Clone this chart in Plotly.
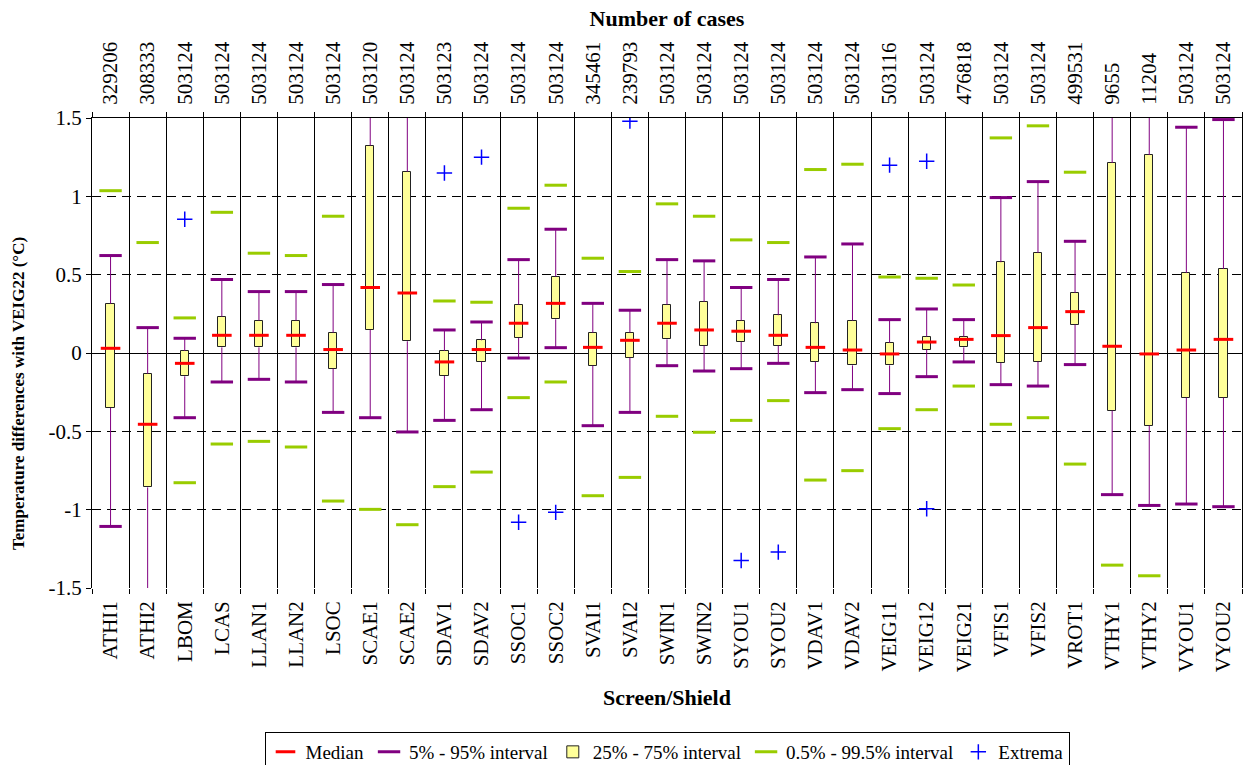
import plotly.graph_objects as go

categories = ["ATHI1", "ATHI2", "LBOM", "LCAS", "LLAN1", "LLAN2", "LSOC", "SCAE1", "SCAE2",
              "SDAV1", "SDAV2", "SSOC1", "SSOC2", "SVAI1", "SVAI2", "SWIN1", "SWIN2", "SYOU1",
              "SYOU2", "VDAV1", "VDAV2", "VEIG11", "VEIG12", "VEIG21", "VFIS1", "VFIS2", "VROT1",
              "VTHY1", "VTHY2", "VYOU1", "VYOU2"]

n_cases = [329206, 308333, 503124, 503124, 503124, 503124, 503124, 503120, 503124, 503123,
           503124, 503124, 503124, 345461, 239793, 503124, 503124, 503124, 503124, 503124,
           503124, 503116, 503124, 476818, 503124, 503124, 499531, 9655, 11204, 503124, 503124]

median = [0.03, -0.455, -0.066, 0.113, 0.113, 0.113, 0.022, 0.418, 0.383, -0.057, 0.022,
          0.19, 0.317, 0.036, 0.081, 0.19, 0.147, 0.139, 0.113, 0.036, 0.019, -0.006, 0.07,
          0.087, 0.111, 0.162, 0.264, 0.043, -0.006, 0.019, 0.087]
q1 = [-0.351, -0.858, -0.149, 0.036, 0.036, 0.036, -0.1, 0.147, 0.075, -0.147, -0.055,
      0.096, 0.215, -0.081, -0.03, 0.087, 0.047, 0.07, 0.047, -0.055, -0.079, -0.079, 0.022,
      0.036, -0.064, -0.055, 0.181, -0.368, -0.464, -0.285, -0.285]
q3 = [0.315, -0.132, 0.013, 0.232, 0.207, 0.207, 0.13, 1.324, 1.158, 0.013, 0.081, 0.309,
      0.488, 0.13, 0.13, 0.309, 0.326, 0.207, 0.241, 0.19, 0.207, 0.064, 0.105, 0.105, 0.579,
      0.639, 0.383, 1.213, 1.264, 0.511, 0.536]
p5 = [-1.107, -1.6, -0.413, -0.185, -0.168, -0.185, -0.379, -0.413, -0.504, -0.43, -0.362,
      -0.032, 0.034, -0.464, -0.379, -0.081, -0.115, -0.1, -0.066, -0.253, -0.234, -0.259,
      -0.151, -0.057, -0.202, -0.211, -0.074, -0.904, -0.973, -0.964, -0.981]
p95 = [0.622, 0.162, 0.094, 0.469, 0.392, 0.392, 0.437, 1.7, 1.7, 0.147, 0.198, 0.596, 0.79,
       0.317, 0.273, 0.596, 0.588, 0.418, 0.469, 0.613, 0.696, 0.213, 0.281, 0.213, 0.992,
       1.094, 0.713, 1.7, 1.7, 1.441, 1.49]
p0_5 = [None, None, -0.828, -0.581, -0.564, -0.6, -0.945, -0.998, -1.096, -0.853, -0.76,
        -0.285, -0.185, -0.911, -0.794, -0.404, -0.506, -0.43, -0.304, -0.811, -0.751, -0.483,
        -0.362, -0.211, -0.455, -0.413, -0.709, -1.354, -1.422, None, None]
p99_5 = [1.036, 0.705, 0.224, 0.898, 0.637, 0.622, 0.873, None, None, 0.332, 0.324, 0.924,
         1.071, 0.605, 0.52, 0.952, 0.873, 0.722, 0.705, 1.171, 1.205, 0.485, 0.477, 0.434,
         1.373, 1.45, 1.154, None, None, None, None]
ext_max = [None, None, 0.854, None, None, None, None, None, None, 1.149, 1.25, None, None,
           None, 1.48, None, None, None, None, None, None, 1.199, 1.224, None, None, None,
           None, None, None, None, None]
ext_min = [None, None, None, None, None, None, None, None, None, None, None, -1.08, -1.017,
           None, None, None, None, -1.324, -1.271, None, None, None, -0.994, None, None, None,
           None, None, None, None, None]

FONT = "Liberation Serif"
PURPLE = "#800080"
GREEN = "#99CC00"
RED = "#FF0000"
YELLOW = "#FFFF99"
BLUE = "#0000FF"

# whisker segments (outside the box)
wx, wy = [], []
for c, a, b, lo, hi in zip(categories, q1, q3, p5, p95):
    if lo is not None:
        wx += [c, c, None]
        wy += [lo, a, None]
    if hi is not None:
        wx += [c, c, None]
        wy += [b, hi, None]

fig = go.Figure()

fig.add_trace(go.Scatter(x=wx, y=wy, mode="lines", line=dict(color=PURPLE, width=1),
                         showlegend=False, hoverinfo="skip"))

fig.add_trace(go.Bar(x=categories, y=[b - a for a, b in zip(q1, q3)], base=q1, width=0.22,
                     marker=dict(color=YELLOW, line=dict(color="#222222", width=1)),
                     name="25% - 75% interval", legendrank=3))

def dash_trace(vals, color, name, rank, size=16, show=True):
    return go.Scatter(x=categories, y=vals, mode="markers", name=name, legendrank=rank,
                      showlegend=show,
                      marker=dict(symbol="line-ew", size=size, color=color,
                                  line=dict(color=color, width=3)))

fig.add_trace(dash_trace(p5, PURPLE, "5% - 95% interval", 2))
fig.add_trace(dash_trace(p95, PURPLE, "5% - 95% interval", 2, show=False))
fig.add_trace(dash_trace(p0_5, GREEN, "0.5% - 99.5% interval", 4))
fig.add_trace(dash_trace(p99_5, GREEN, "0.5% - 99.5% interval", 4, show=False))
fig.add_trace(dash_trace(median, RED, "Median", 1, size=14))

fig.add_trace(go.Scatter(x=categories, y=ext_max, mode="markers", name="Extrema", legendrank=5,
                         marker=dict(symbol="cross-thin", size=11, color=BLUE,
                                     line=dict(color=BLUE, width=1.5))))
fig.add_trace(go.Scatter(x=categories, y=ext_min, mode="markers", name="Extrema", showlegend=False,
                         marker=dict(symbol="cross-thin", size=11, color=BLUE,
                                     line=dict(color=BLUE, width=1.5))))

# invisible trace for the top axis (number of cases)
fig.add_trace(go.Scatter(x=categories, y=[None] * len(categories), xaxis="x2",
                         mode="markers", showlegend=False, hoverinfo="skip"))

fig.update_layout(
    width=1244, height=765,
    margin=dict(l=92, r=2, t=118, b=177, autoexpand=False),
    paper_bgcolor="white", plot_bgcolor="white",
    font=dict(family=FONT, size=21, color="black"),
    showlegend=True,
    legend=dict(orientation="h", x=0.5, xanchor="center", y=-(732 - 588) / 470, yanchor="top",
                bordercolor="black", borderwidth=1,
                font=dict(family=FONT, size=19, color="black"), itemwidth=30,
                traceorder="normal"),
    bargap=0,
    xaxis=dict(type="category", categoryorder="array", categoryarray=categories,
               range=[-0.5, len(categories) - 0.5], tickson="boundaries", automargin=False,
               showgrid=True, gridcolor="black", gridwidth=1,
               ticks="outside", ticklen=5, tickcolor="black", tickangle=-90,
               ticklabelstandoff=8, showline=False, zeroline=False,
               title=dict(text="<b>Screen/Shield</b>", standoff=18, font=dict(size=22))),
    xaxis2=dict(type="category", overlaying="x", side="top", categoryorder="array",
                categoryarray=categories, range=[-0.5, len(categories) - 0.5],
                tickmode="array", tickvals=categories, ticktext=[str(n) for n in n_cases],
                tickson="boundaries", ticks="outside", ticklen=5, tickcolor="black",
                tickangle=-90, ticklabelstandoff=8, showline=True, linecolor="black",
                showgrid=False, zeroline=False, automargin=False,
                title=dict(text="<b>Number of cases</b>", standoff=8, font=dict(size=22))),
    yaxis=dict(range=[-1.5, 1.5], tickmode="array", automargin=False,
               tickvals=[-1.5, -1, -0.5, 0, 0.5, 1, 1.5],
               ticktext=["-1.5", "-1", "-0.5", "0", "0.5", "1", "1.5"],
               showgrid=True, gridcolor="black", gridwidth=1, griddash="9px,6px",
               zeroline=True, zerolinecolor="black", zerolinewidth=1,
               showline=True, linecolor="black", mirror=True,
               ticks="outside", ticklen=5, tickcolor="black"),
    annotations=[dict(text="<b>Temperature differences with VEIG22 (°C)</b>",
                      textangle=-90, xref="paper", yref="paper",
                      x=(18 - 92) / 1150, y=(588 - 394) / 470,
                      xanchor="center", yanchor="middle", showarrow=False,
                      font=dict(size=17))],
)

fig.write_html("out.html", config={"displayModeBar": False},
               post_script="document.body.style.margin='0';document.body.style.overflow='hidden';")
